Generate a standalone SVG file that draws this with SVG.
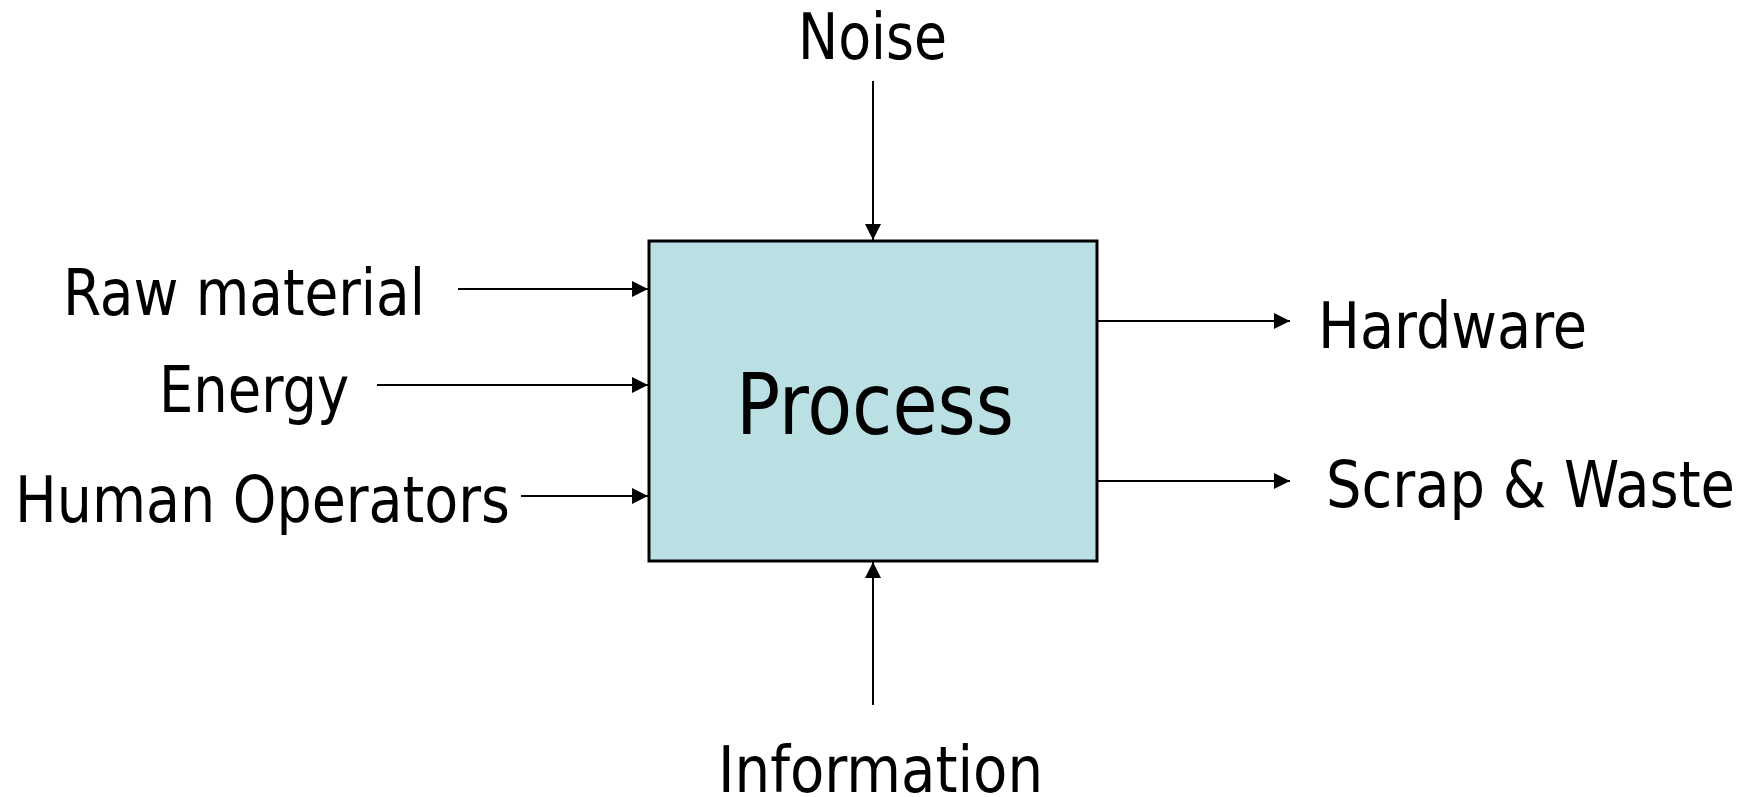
<svg xmlns="http://www.w3.org/2000/svg" width="1756" height="797" viewBox="0 0 1756 797">
  <style>
    .lbl { font-family: "DejaVu Sans Condensed", "DejaVu Sans", sans-serif; font-size: 64px; fill: #000; }
    .big { font-family: "DejaVu Sans Condensed", "DejaVu Sans", sans-serif; font-size: 86px; fill: #000; }
    .conn { stroke: #000; stroke-width: 2; fill: none; marker-end: url(#arrow); }
  </style>
  <defs>
    <marker id="arrow" viewBox="0 0 16 16" refX="16" refY="8" markerWidth="16" markerHeight="16" markerUnits="userSpaceOnUse" orient="auto">
      <path d="M0,0 L16,8 L0,16 Z" fill="#000"/>
    </marker>
  </defs>
  <rect width="1756" height="797" fill="#fff"/>
  <g id="process">
    <rect x="649" y="241" width="448" height="320" fill="#BBE0E3" stroke="#000" stroke-width="3"/>
    <text class="big" x="736" y="434" textLength="278" lengthAdjust="spacingAndGlyphs">Process</text>
  </g>
  <g id="noise"><text class="lbl" x="798" y="59" textLength="149" lengthAdjust="spacingAndGlyphs">Noise</text></g>
  <g id="raw-material"><text class="lbl" x="63" y="315" textLength="362" lengthAdjust="spacingAndGlyphs">Raw material</text></g>
  <g id="energy"><text class="lbl" x="159" y="412" textLength="190" lengthAdjust="spacingAndGlyphs">Energy</text></g>
  <g id="human-operators"><text class="lbl" x="15" y="522" textLength="495" lengthAdjust="spacingAndGlyphs">Human Operators</text></g>
  <g id="hardware"><text class="lbl" x="1318" y="348" textLength="269" lengthAdjust="spacingAndGlyphs">Hardware</text></g>
  <g id="scrap-waste"><text class="lbl" x="1326" y="507" textLength="409" lengthAdjust="spacingAndGlyphs">Scrap &amp; Waste</text></g>
  <g id="information"><text class="lbl" x="718" y="792" textLength="325" lengthAdjust="spacingAndGlyphs">Information</text></g>
  <g id="connectors">
    <line class="conn" x1="873" y1="81" x2="873" y2="240"/>
    <line class="conn" x1="873" y1="705" x2="873" y2="562"/>
    <line class="conn" x1="458" y1="289" x2="648" y2="289"/>
    <line class="conn" x1="377" y1="385" x2="648" y2="385"/>
    <line class="conn" x1="521" y1="496" x2="648" y2="496"/>
    <line class="conn" x1="1098" y1="321" x2="1290" y2="321"/>
    <line class="conn" x1="1098" y1="481" x2="1290" y2="481"/>
  </g>
</svg>
